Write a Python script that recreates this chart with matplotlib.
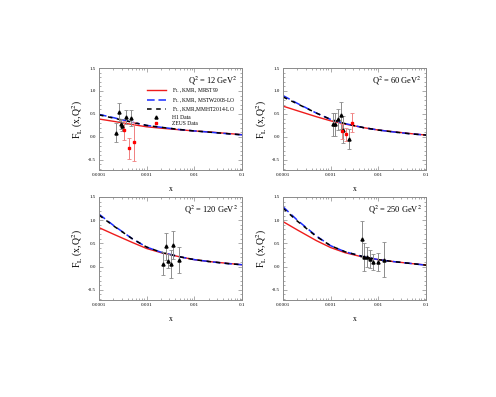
import numpy as np
import matplotlib
matplotlib.use("Agg")
import matplotlib.pyplot as plt
from matplotlib.lines import Line2D
from matplotlib.ticker import LogLocator, MultipleLocator, FixedLocator, FixedFormatter, NullFormatter

plt.rcParams['font.family'] = ['Liberation Serif', 'DejaVu Serif']
plt.rcParams['mathtext.fontset'] = 'stix'

# ---------------- data ----------------
x_grid = [1e-4, 2e-4, 5e-4, 1e-3, 2e-3, 5e-3, 1e-2, 2e-2, 5e-2, 1e-1]

q2_labels = ["12", "60", "120", "250"]

red_mrst99 = [
    [0.39, 0.34, 0.27, 0.22, 0.19, 0.155, 0.13, 0.11, 0.075, 0.05],
    [0.67, 0.57, 0.44, 0.35, 0.28, 0.20, 0.15, 0.115, 0.07, 0.04],
    [0.84, 0.70, 0.52, 0.39, 0.30, 0.21, 0.15, 0.11, 0.07, 0.04],
    [0.97, 0.79, 0.56, 0.41, 0.30, 0.20, 0.15, 0.11, 0.065, 0.035],
]
blue_mstw2008 = [
    [0.49, 0.42, 0.32, 0.25, 0.21, 0.16, 0.13, 0.105, 0.07, 0.045],
    [0.90, 0.73, 0.52, 0.38, 0.29, 0.20, 0.15, 0.11, 0.065, 0.04],
    [1.13, 0.89, 0.60, 0.42, 0.31, 0.21, 0.15, 0.11, 0.065, 0.04],
    [1.29, 1.00, 0.66, 0.45, 0.32, 0.21, 0.15, 0.11, 0.065, 0.03],
]
black_mmht2014 = [
    [0.48, 0.41, 0.32, 0.25, 0.21, 0.16, 0.13, 0.105, 0.07, 0.045],
    [0.87, 0.72, 0.52, 0.38, 0.29, 0.20, 0.15, 0.11, 0.065, 0.04],
    [1.11, 0.88, 0.60, 0.42, 0.31, 0.21, 0.15, 0.11, 0.065, 0.04],
    [1.26, 0.98, 0.65, 0.45, 0.32, 0.21, 0.15, 0.11, 0.065, 0.03],
]

h1_x = [
    [2.25e-4, 2.57e-4, 2.88e-4, 3.1e-4, 3.67e-4, 4.8e-4],
    [1.12e-3, 1.24e-3, 1.41e-3, 1.61e-3, 1.78e-3, 2.47e-3],
    [2.24e-3, 2.5e-3, 2.8e-3, 3.24e-3, 3.56e-3, 4.85e-3],
    [4.58e-3, 5.12e-3, 5.83e-3, 6.7e-3, 7.6e-3, 1.0e-2, 1.3e-2],
]
h1_y = [
    [0.09, 0.54, 0.28, 0.23, 0.43, 0.41],
    [0.28, 0.28, 0.38, 0.47, 0.16, -0.05],
    [0.06, 0.44, 0.12, 0.05, 0.47, 0.14],
    [0.60, 0.21, 0.21, 0.16, 0.10, 0.10, 0.15],
]
h1_err = [
    [0.21, 0.20, 0.10, 0.10, 0.15, 0.17],
    [0.25, 0.25, 0.22, 0.30, 0.30, 0.22],
    [0.25, 0.29, 0.15, 0.30, 0.30, 0.28],
    [0.39, 0.30, 0.21, 0.20, 0.18, 0.19, 0.37],
]

zeus_x = [
    [3.27e-4, 4.18e-4, 5.4e-4],
    [1.69e-3, 2.1e-3, 2.77e-3],
    [],
    [],
]
zeus_y = [
    [0.14, -0.25, -0.10],
    [0.12, 0.06, 0.31],
    [],
    [],
]
zeus_err = [
    [0.21, 0.23, 0.42],
    [0.16, 0.14, 0.20],
    [],
    [],
]

legend_labels = [r'F$_{\rm L}$ , KMR, MRST99', r'F$_{\rm L}$ , KMR, MSTW2008-LO',
                 r'F$_{\rm L}$ , KMR,MMHT2014-LO', 'H1 Data', 'ZEUS Data']

# ---------------- figure ----------------
W, H = 496, 397
fig = plt.figure(figsize=(W / 100, H / 100), dpi=100)

boxes = [
    (99, 68, 242, 170),
    (283, 68, 426, 170),
    (99, 197, 242, 300),
    (283, 197, 426, 300),
]

frame_col = '#8a8a8a'
red = '#ee1c1c'
blue = '#1a2cff'

for i, (l, t, r, b) in enumerate(boxes):
    ax = fig.add_axes([l / W, 1 - b / H, (r - l) / W, (b - t) / H])
    ax.set_xscale('log')
    ax.set_xlim(1e-4, 0.1)
    ax.set_ylim(-0.72, 1.5)

    ax.plot(x_grid, red_mrst99[i], color=red, lw=1.0)
    ax.plot(x_grid, blue_mstw2008[i], color=blue, lw=1.1, dashes=(5, 2.5))
    ax.plot(x_grid, black_mmht2014[i], color='black', lw=1.1, dashes=(3, 3))

    ax.errorbar(h1_x[i], h1_y[i], yerr=h1_err[i], fmt='^', color='black', ms=2.2,
                ecolor='#8c8c8c', elinewidth=0.7, capsize=1.5, capthick=0.6)
    if zeus_x[i]:
        ax.errorbar(zeus_x[i], zeus_y[i], yerr=zeus_err[i], fmt='s', color='red', ms=1.8,
                    ecolor='#f08080', elinewidth=0.7, capsize=1.5, capthick=0.6)

    for s in ax.spines.values():
        s.set_color(frame_col)
        s.set_linewidth(0.7)

    ax.xaxis.set_major_locator(FixedLocator([1e-4, 1e-3, 1e-2, 1e-1]))
    ax.xaxis.set_major_formatter(FixedFormatter(['0.0001', '0.001', '0.01', '0.1']))
    ax.xaxis.set_minor_locator(LogLocator(base=10, subs=np.arange(2, 10), numticks=20))
    ax.xaxis.set_minor_formatter(NullFormatter())
    ax.yaxis.set_major_locator(FixedLocator([-0.5, 0.0, 0.5, 1.0, 1.5]))
    ax.yaxis.set_major_formatter(FixedFormatter(['-0.5', '0.0', '0.5', '1.0', '1.5']))
    ax.yaxis.set_minor_locator(MultipleLocator(0.1))

    ax.tick_params(which='both', direction='in', top=True, right=True, color=frame_col,
                   width=0.5, labelsize=3.6, pad=2)
    ax.tick_params(which='major', length=3)
    ax.tick_params(which='minor', length=1.6)

    ax.set_xlabel('x', fontsize=5.5, labelpad=6)
    ax.set_ylabel(r'F$_{\rm L}$ (x,Q$^2$)', fontsize=7, labelpad=2)

    ax.text(0.97, 0.94, r'Q$^2$ = ' + q2_labels[i] + r' GeV$^2$', transform=ax.transAxes,
            ha='right', va='top', fontsize=6)

    if i == 0:
        handles = [
            Line2D([], [], color=red, lw=1.0),
            Line2D([], [], color=blue, lw=1.1, dashes=(5, 2.5)),
            Line2D([], [], color='black', lw=1.1, dashes=(3, 3)),
            Line2D([], [], ls='none', marker='^', color='black', ms=2.2),
            Line2D([], [], ls='none', marker='s', color='red', ms=1.8),
        ]
        ax.legend(handles, legend_labels, loc='upper left', bbox_to_anchor=(0.33, 0.83),
                  frameon=False, fontsize=4.0, handlelength=3.3, handletextpad=1.2,
                  labelspacing=0.12, borderaxespad=0.0, borderpad=0.2)

fig.savefig('out.png', dpi=100)
